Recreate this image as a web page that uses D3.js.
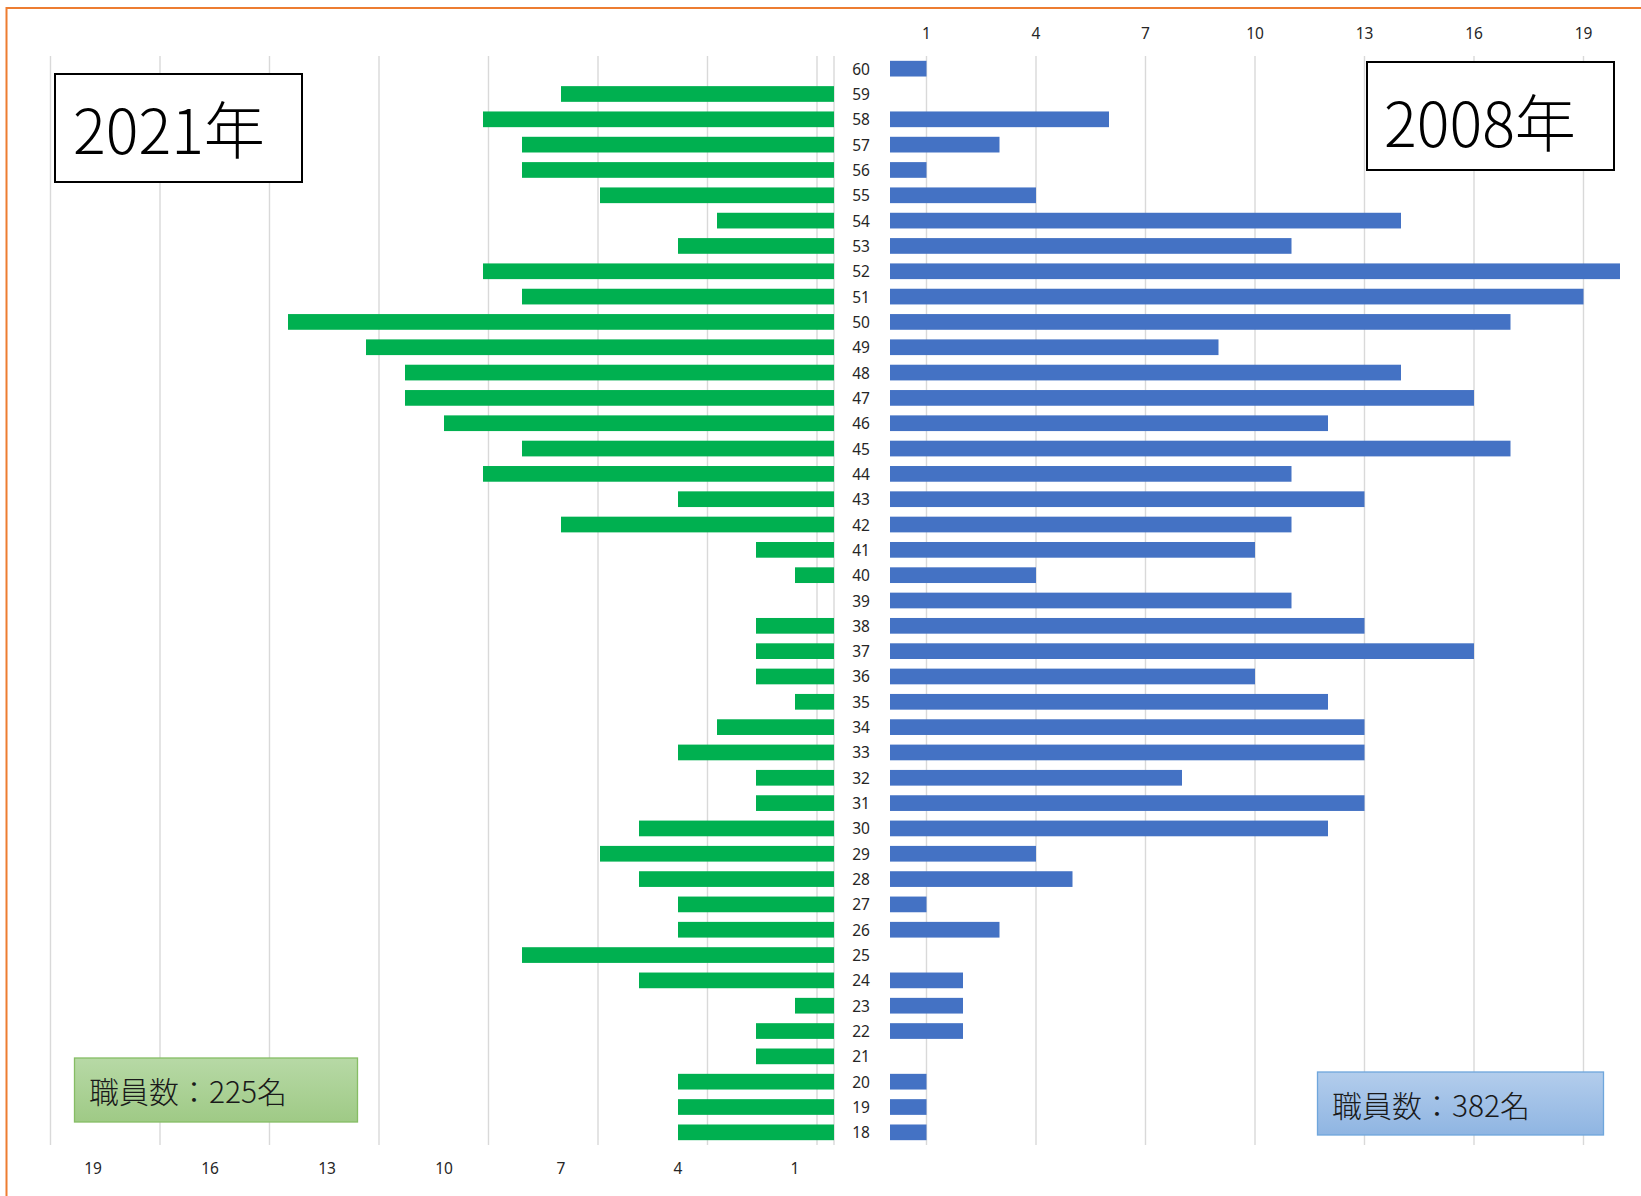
<!DOCTYPE html>
<html>
<head>
<meta charset="utf-8">
<script src="https://cdn.jsdelivr.net/npm/d3@7/dist/d3.min.js"></script>
<style>
  html, body { margin: 0; padding: 0; background: #fff; }
  svg { display: block; }
</style>
</head>
<body>
<svg id="chart" width="1641" height="1196"></svg>
<script>
// ---- data ----
const ages = [60,59,58,57,56,55,54,53,52,51,50,49,48,47,46,45,44,43,42,41,40,39,38,37,36,35,34,33,32,31,30,29,28,27,26,25,24,23,22,21,20,19,18];
const staff2021 = [0,7,9,8,8,6,3,4,9,8,14,12,11,11,10,8,9,4,7,2,1,0,2,2,2,1,3,4,2,2,5,6,5,4,4,8,5,1,2,2,4,4,4];
const staff2008 = [1,0,6,3,1,4,14,11,20,19,17,9,14,16,12,17,11,13,11,10,4,11,13,16,10,12,13,13,8,13,12,4,5,1,3,0,2,2,2,0,1,1,1];
const tickValues = [1,4,7,10,13,16,19];
const gridValues = [-23,-20,-17,-14,-11,-8,-5,-2,1,4,7,10,13,16,19];
const title2021 = "2021年";
const title2008 = "2008年";
const total2021 = "職員数：225名";
const total2008 = "職員数：382名";

// ---- drawing ----
const svg = d3.select("#chart");
const plotTop = 56, plotBottom = 1145;

const xR = d3.scaleLinear().domain([0, 20]).range([890, 1620]);
const xL = d3.scaleLinear().domain([0, 20]).range([834, 54]);
const y = d3.scaleBand().domain(ages).range([plotTop, plotBottom]).paddingInner(0.38).paddingOuter(0.19);

const defs = svg.append("defs");
const gG = defs.append("linearGradient").attr("id","gGreen").attr("x1",0).attr("y1",0).attr("x2",0).attr("y2",1);
gG.append("stop").attr("offset","0%").attr("stop-color","#b7d9a6");
gG.append("stop").attr("offset","100%").attr("stop-color","#9fca86");
const gB = defs.append("linearGradient").attr("id","gBlue").attr("x1",0).attr("y1",0).attr("x2",0).attr("y2",1);
gB.append("stop").attr("offset","0%").attr("stop-color","#b3cdec");
gB.append("stop").attr("offset","100%").attr("stop-color","#8fb5e2");

// gridlines (from right-hand chart, extending across)
svg.append("g").selectAll("line").data(gridValues).join("line")
  .attr("x1", d => xR(d)).attr("x2", d => xR(d))
  .attr("y1", plotTop).attr("y2", plotBottom)
  .attr("stroke", "#d9d9d9").attr("stroke-width", 1.4);
// left chart axis line
svg.append("line").attr("x1", xL(0)).attr("x2", xL(0)).attr("y1", plotTop).attr("y2", plotBottom)
  .attr("stroke", "#d9d9d9").attr("stroke-width", 1.4);

// left bars (2021)
svg.append("g").selectAll("rect").data(ages.map((a,i)=>({a, v: staff2021[i]})).filter(d=>d.v>0)).join("rect")
  .attr("x", d => xL(d.v)).attr("width", d => xL(0) - xL(d.v))
  .attr("y", d => y(d.a)).attr("height", y.bandwidth())
  .attr("fill", "#00b050");

// right bars (2008)
svg.append("g").selectAll("rect").data(ages.map((a,i)=>({a, v: staff2008[i]})).filter(d=>d.v>0)).join("rect")
  .attr("x", xR(0)).attr("width", d => xR(d.v) - xR(0))
  .attr("y", d => y(d.a)).attr("height", y.bandwidth())
  .attr("fill", "#4472c4");

// age labels
svg.append("g").selectAll("text").data(ages).join("text")
  .attr("x", 861).attr("y", d => y(d) + y.bandwidth()/2)
  .attr("text-anchor","middle").attr("dominant-baseline","central")
  .attr("font-family","'Noto Sans', sans-serif").attr("font-size",15.5).attr("fill","#262626")
  .text(d => d);

// top axis labels (right chart)
svg.append("g").selectAll("text").data(tickValues).join("text")
  .attr("x", d => xR(d)).attr("y", 33)
  .attr("text-anchor","middle").attr("dominant-baseline","central")
  .attr("font-family","'Noto Sans', sans-serif").attr("font-size",15.5).attr("fill","#262626")
  .text(d => d);

// bottom axis labels (left chart)
svg.append("g").selectAll("text").data(tickValues).join("text")
  .attr("x", d => xL(d)).attr("y", 1168)
  .attr("text-anchor","middle").attr("dominant-baseline","central")
  .attr("font-family","'Noto Sans', sans-serif").attr("font-size",15.5).attr("fill","#262626")
  .text(d => d);

// title boxes
function titleBox(x0, y0, w, h, tx, ty, txt) {
  svg.append("rect").attr("x", x0).attr("y", y0).attr("width", w).attr("height", h)
    .attr("fill","#fff").attr("stroke","#000").attr("stroke-width",2);
  svg.append("text").attr("x", tx).attr("y", ty)
    .attr("font-family","'Noto Sans CJK JP', sans-serif").attr("font-weight",300)
    .attr("font-size",62).attr("fill","#000")
    .attr("textLength", 192).attr("lengthAdjust","spacingAndGlyphs")
    .text(txt);
}
titleBox(55, 74, 247, 108, 73, 154, title2021);
titleBox(1367, 62, 247, 108, 1384, 147, title2008);

// total boxes
function totalBox(x0, y0, w, h, fill, stroke, tx, ty, txt) {
  svg.append("rect").attr("x", x0).attr("y", y0).attr("width", w).attr("height", h)
    .attr("fill", fill).attr("stroke", stroke).attr("stroke-width", 1.3);
  svg.append("text").attr("x", tx).attr("y", ty)
    .attr("dominant-baseline","central")
    .attr("font-family","'Noto Sans CJK JP', sans-serif").attr("font-weight",300)
    .attr("font-size",30).attr("fill","#1a1a1a")
    .attr("textLength", 198).attr("lengthAdjust","spacingAndGlyphs")
    .text(txt);
}
totalBox(74.5, 1058, 283, 64, "url(#gGreen)", "#86bd64", 89, 1090, total2021);
totalBox(1317.5, 1072, 286, 63, "url(#gBlue)", "#6fa6dc", 1332, 1104, total2008);

// orange frame (top and left edges visible)
svg.append("path").attr("d", "M6.5,1196 V8 H1641")
  .attr("fill","none").attr("stroke","#ed7d31").attr("stroke-width",2);
</script>
</body>
</html>
